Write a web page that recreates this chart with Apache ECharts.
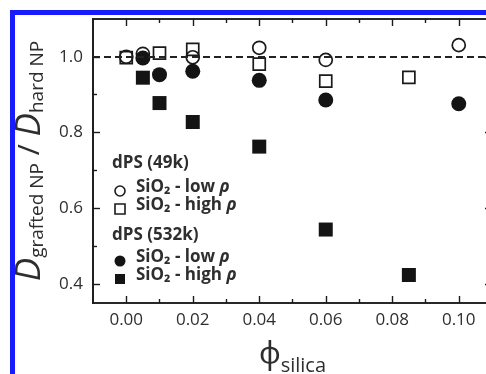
<!DOCTYPE html>
<html><head><meta charset="utf-8">
<script src="https://cdn.jsdelivr.net/npm/echarts@6/dist/echarts.min.js"></script>
<style>html,body{margin:0;padding:0;background:#fff}#c{width:486px;height:374px}</style>
</head><body><div id="c"></div>
<script>
// ---- data ----
const phi49Low   = [0.000, 0.005, 0.020, 0.040, 0.060, 0.100];
const d49Low     = [1.000, 1.008, 0.999, 1.024, 0.992, 1.031];
const phi49High  = [0.000, 0.010, 0.020, 0.040, 0.060, 0.085];
const d49High    = [0.998, 1.010, 1.020, 0.981, 0.936, 0.946];
const phi532Low  = [0.005, 0.010, 0.020, 0.040, 0.060, 0.100];
const d532Low    = [0.997, 0.953, 0.962, 0.938, 0.886, 0.876];
const phi532High = [0.005, 0.010, 0.020, 0.040, 0.060, 0.085];
const d532High   = [0.945, 0.878, 0.828, 0.763, 0.544, 0.424];
const xMajorTicks = [0.00, 0.02, 0.04, 0.06, 0.08, 0.10];
const xMinorTicks = [0.01, 0.03, 0.05, 0.07, 0.09];
const yMajorTicks = [0.4, 0.6, 0.8, 1.0];
const yMinorTicks = [0.5, 0.7, 0.9];
const refLine = 1.0;

const FONT = '"Open Sans", "Noto Sans", sans-serif';
const AX = '#1a1a1a', TXT = '#2e2e2e';
const pair = (xs, ys) => xs.map((x, i) => [x, ys[i]]);

function xAx(pos, ticks, len, labels) {
  const a = {
    type: 'value', position: pos, min: -0.01, max: 0.11, gridIndex: 0,
    axisLine: { show: true, onZero: false, lineStyle: { color: AX, width: 1.7 } },
    axisTick: { show: true, inside: true, length: len, customValues: ticks, lineStyle: { color: AX, width: 1.4 } },
    axisLabel: { show: false }, splitLine: { show: false }
  };
  if (labels) {
    a.axisLabel = { show: true, customValues: xMajorTicks, formatter: v => v.toFixed(2),
      fontFamily: FONT, fontSize: 17, color: TXT, margin: 9 };
    a.name = '{p|\u03D5}{s|silica}';
    a.nameLocation = 'middle';
    a.nameGap = 31;
    a.nameTextStyle = { rich: {
      p: { fontFamily: FONT, fontSize: 30, color: TXT, lineHeight: 42 },
      s: { fontFamily: FONT, fontSize: 20, color: TXT, verticalAlign: 'bottom' }
    } };
  }
  return a;
}
function yAx(pos, ticks, len, labels) {
  const a = {
    type: 'value', position: pos, min: 0.35, max: 1.1, gridIndex: 0,
    axisLine: { show: pos === 'left', onZero: false, lineStyle: { color: AX, width: 1.7 } },
    axisTick: { show: true, inside: true, length: len, customValues: ticks, lineStyle: { color: AX, width: 1.4 } },
    axisLabel: { show: false }, splitLine: { show: false }
  };
  if (labels) {
    a.axisLabel = { show: true, customValues: yMajorTicks, formatter: v => v.toFixed(1),
      fontFamily: FONT, fontSize: 17, color: TXT, margin: 10 };
    a.name = '{D|D}{s|grafted NP}{sl| / }{D|D}{s|hard NP}';
    a.nameLocation = 'middle';
    a.nameRotate = 90;
    a.nameGap = 46;
    a.nameTextStyle = { rich: {
      D: { fontFamily: FONT, fontSize: 35, fontStyle: 'italic', color: TXT, lineHeight: 34 },
      s: { fontFamily: FONT, fontSize: 19, color: TXT, lineHeight: 12, verticalAlign: 'bottom' },
      sl: { fontFamily: FONT, fontSize: 30, color: TXT, lineHeight: 34 }
    } };
  }
  return a;
}

const openStyle = { color: 'rgba(0,0,0,0)', borderColor: '#1a1a1a', borderWidth: 1.7, opacity: 1 };
const fillStyle = { color: '#141414', borderColor: '#141414', borderWidth: 0, opacity: 1 };

// legend drawn with graphic elements
const legX = 120, legTextX = 136;
function legText(y, hi) {
  return { type: 'text', left: legTextX, top: y - 12, z: 10,
    style: { text: '{a|SiO\u2082 - ' + (hi ? 'high' : 'low') + ' }{r|\u03C1}',
      rich: { a: { fontFamily: FONT, fontSize: 17, fontWeight: 'bold', fill: TXT },
              r: { fontFamily: FONT, fontSize: 17, fontWeight: 'bold', fontStyle: 'italic', fill: TXT } } } };
}
const graphic = [
  { type: 'rect', left: 10, top: 10, shape: { width: 5, height: 364 }, style: { fill: '#1a1aff' }, z: 20 },
  { type: 'rect', left: 10, top: 10, shape: { width: 476, height: 5 }, style: { fill: '#1a1aff' }, z: 20 },
  { type: 'text', left: 112, top: 155, z: 10, style: { text: 'dPS (49k)', fontFamily: FONT, fontSize: 17, fontWeight: 'bold', fill: TXT } },
  { type: 'circle', shape: { cx: legX, cy: 191, r: 5 }, style: { fill: 'none', stroke: '#1a1a1a', lineWidth: 1.6 }, z: 10 },
  legText(191, false),
  { type: 'rect', shape: { x: legX - 5, y: 204, width: 10, height: 10 }, style: { fill: 'none', stroke: '#1a1a1a', lineWidth: 1.6 }, z: 10 },
  legText(209, true),
  { type: 'text', left: 112, top: 227, z: 10, style: { text: 'dPS (532k)', fontFamily: FONT, fontSize: 17, fontWeight: 'bold', fill: TXT } },
  { type: 'circle', shape: { cx: legX, cy: 261, r: 5.5 }, style: { fill: '#141414' }, z: 10 },
  legText(261, false),
  { type: 'rect', shape: { x: legX - 5, y: 274, width: 10, height: 10 }, style: { fill: '#141414' }, z: 10 },
  legText(279, true)
];

const chart = echarts.init(document.getElementById('c'), null, { renderer: 'canvas' });
chart.setOption({
  backgroundColor: '#fff',
  animation: false,
  grid: { left: 93, top: 19, width: 399, height: 284, containLabel: false, outerBoundsMode: 'none' },
  xAxis: [ xAx('bottom', xMajorTicks, 7, true), xAx('bottom', xMinorTicks, 4, false),
           xAx('top', xMajorTicks, 7, false), xAx('top', xMinorTicks, 4, false) ],
  yAxis: [ yAx('left', yMajorTicks, 7, true), yAx('left', yMinorTicks, 4, false),
           yAx('right', yMajorTicks, 7, false), yAx('right', yMinorTicks, 4, false) ],
  graphic: graphic,
  series: [
    { name: 'dPS (49k) SiO2 - low rho', type: 'scatter', symbol: 'circle', symbolSize: 13,
      data: pair(phi49Low, d49Low), itemStyle: openStyle, z: 3,
      markLine: { silent: true, symbol: 'none', label: { show: false }, animation: false,
        lineStyle: { type: [7, 4], color: '#222', width: 1.8 }, data: [{ yAxis: refLine }] } },
    { name: 'dPS (49k) SiO2 - high rho', type: 'scatter', symbol: 'rect', symbolSize: 12,
      data: pair(phi49High, d49High), itemStyle: openStyle, z: 3 },
    { name: 'dPS (532k) SiO2 - low rho', type: 'scatter', symbol: 'circle', symbolSize: 15,
      data: pair(phi532Low, d532Low), itemStyle: fillStyle, z: 4 },
    { name: 'dPS (532k) SiO2 - high rho', type: 'scatter', symbol: 'rect', symbolSize: 14,
      data: pair(phi532High, d532High), itemStyle: fillStyle, z: 4 }
  ]
});
</script></body></html>
